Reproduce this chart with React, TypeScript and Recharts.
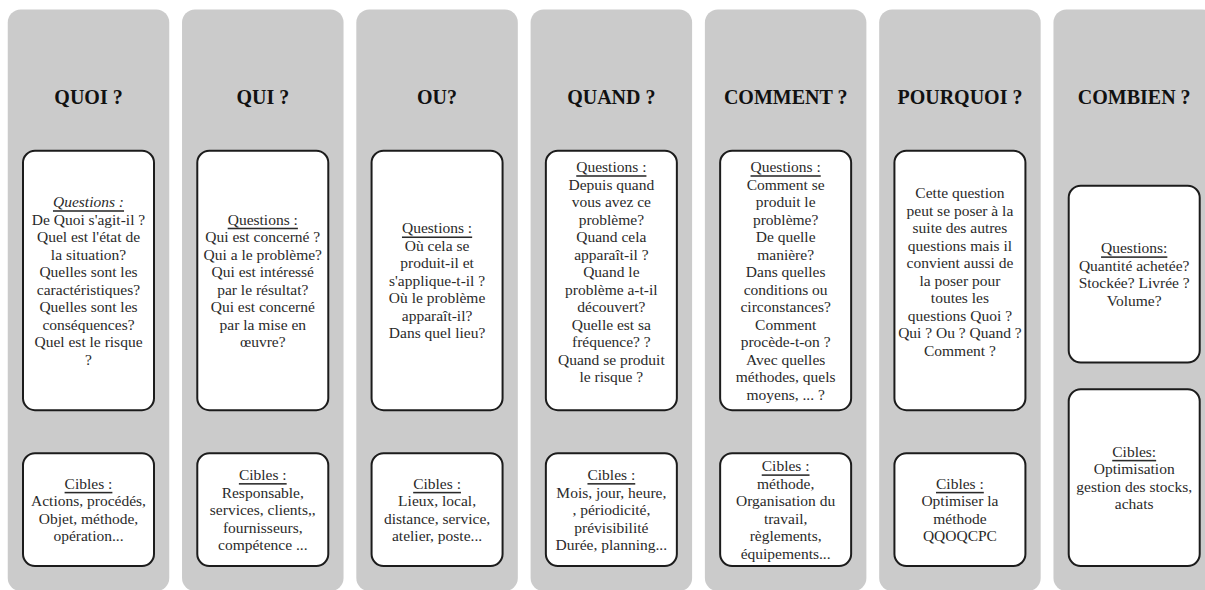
import { BarChart, Bar, XAxis, YAxis } from 'recharts';

// column titles
const titles = ['QUOI ?', 'QUI ?', 'OU?', 'QUAND ?', 'COMMENT ?', 'POURQUOI ?', 'COMBIEN ?'];

const questionHeaders = ['Questions :', 'Questions :', 'Questions :', 'Questions :', 'Questions :', '', 'Questions:'];

const questionLines: string[][] = [
  ["De Quoi s'agit-il ?", "Quel est l'état de", 'la situation?', 'Quelles sont les', 'caractéristiques?', 'Quelles sont les', 'conséquences?', 'Quel est le risque', '?'],
  ['Qui est concerné ?', 'Qui a le problème?', 'Qui est intéressé', 'par le résultat?', 'Qui est concerné', 'par la mise en', 'œuvre?'],
  ['Où cela se', 'produit-il et', "s'applique-t-il ?", 'Où le problème', 'apparaît-il?', 'Dans quel lieu?'],
  ['Depuis quand', 'vous avez ce', 'problème?', 'Quand cela', 'apparaît-il ?', 'Quand le', 'problème a-t-il', 'découvert?', 'Quelle est sa', 'fréquence? ?', 'Quand se produit', 'le risque ?', ''],
  ['Comment se', 'produit le', 'problème?', 'De quelle', 'manière?', 'Dans quelles', 'conditions ou', 'circonstances?', 'Comment', 'procède-t-on ?', 'Avec quelles', 'méthodes, quels', 'moyens, ... ?'],
  ['Cette question', 'peut se poser à la', 'suite des autres', 'questions mais il', 'convient aussi de', 'la poser pour', 'toutes les', 'questions Quoi ?', 'Qui ? Ou ? Quand ?', 'Comment ?', ''],
  ['Quantité achetée?', 'Stockée? Livrée ?', 'Volume?'],
];

const targetHeaders = ['Cibles :', 'Cibles :', 'Cibles :', 'Cibles :', 'Cibles :', 'Cibles :', 'Cibles:'];

const targetLines: string[][] = [
  ['Actions, procédés,', 'Objet, méthode,', 'opération...'],
  ['Responsable,', 'services, clients,,', 'fournisseurs,', 'compétence ...'],
  ['Lieux, local,', 'distance, service,', 'atelier, poste...'],
  ['Mois, jour, heure,', ', périodicité,', 'prévisibilité', 'Durée, planning...'],
  ['méthode,', 'Organisation du', 'travail,', 'règlements,', 'équipements...'],
  ['Optimiser la', 'méthode', 'QQOQCPC'],
  ['Optimisation', 'gestion des stocks,', 'achats'],
];

// box extents, in % of the column height, stacked from the bottom
const bottomPad = [4.3, 4.3, 4.3, 4.3, 4.3, 4.3, 4.3];
const targetBoxSize = [19.4, 19.4, 19.4, 19.4, 19.4, 19.4, 30.4];
const betweenGap = [7.4, 7.4, 7.4, 7.4, 7.4, 7.4, 4.6];
const questionBoxSize = [44.6, 44.6, 44.6, 44.6, 44.6, 44.6, 30.4];

const data = titles.map((title, i) => ({
  title,
  col: i,
  pad: bottomPad[i],
  targets: targetBoxSize[i],
  gap: betweenGap[i],
  questions: questionBoxSize[i],
}));

const FONT = '"Liberation Serif", "Times New Roman", serif';
const LINE_H = 17.5;

function TextBlock({ cx, cy, header, lines, italicHeader }: { cx: number; cy: number; header: string; lines: string[]; italicHeader?: boolean }) {
  const all = header ? [header, ...lines] : lines;
  const start = cy - ((all.length - 1) * LINE_H) / 2;
  return (
    <g>
      {all.map((t, i) => (
        <text
          key={i}
          x={cx}
          y={start + i * LINE_H}
          textAnchor="middle"
          dominantBaseline="central"
          fontFamily={FONT}
          fontSize={15.5}
          fill="#2a2a2a"
          fontStyle={header && i === 0 && italicHeader ? 'italic' : 'normal'}
          style={{ textDecoration: header && i === 0 ? 'underline' : 'none' }}
        >
          {t}
        </text>
      ))}
    </g>
  );
}

const makeBox = (kind: 'questions' | 'targets') => (props: any) => {
  const { x, y, width, height, payload } = props;
  const i = payload.col;
  const header = kind === 'questions' ? questionHeaders[i] : targetHeaders[i];
  const lines = kind === 'questions' ? questionLines[i] : targetLines[i];
  return (
    <g>
      <rect x={x} y={y} width={width} height={height} rx={12} ry={12} fill="#ffffff" stroke="#1c1c1c" strokeWidth={2} />
      <TextBlock cx={x + width / 2} cy={y + height / 2} header={header} lines={lines} italicHeader={kind === 'questions' && i === 0} />
    </g>
  );
};

// grey column behind each category, with its title
function ColumnBackground(props: any) {
  const { x, y, width, height, index, payload } = props;
  const title = payload?.title ?? titles[index];
  return (
    <g>
      <rect x={x - 15.25} y={y} width={width + 30.5} height={height} rx={13} ry={13} fill="#cbcbcb" />
      <text x={x + width / 2} y={y + 94.5} textAnchor="middle" fontFamily={FONT} fontWeight="bold" fontSize={20} fill="#111">
        {title}
      </text>
    </g>
  );
}

export default function App() {
  return (
    <div style={{ position: 'absolute', left: 0, top: 0, width: 1205, height: 590, overflow: 'hidden', background: '#fff' }}>
      <BarChart width={1222} height={601} data={data} margin={{ top: 9.5, right: 1, bottom: 10, left: 1 }} barSize={131}>
        <XAxis dataKey="title" hide />
        <YAxis hide type="number" domain={[0, 100]} />
        <Bar dataKey="pad" stackId="col" fill="none" background={<ColumnBackground />} isAnimationActive={false} />
        <Bar dataKey="targets" stackId="col" shape={makeBox('targets')} isAnimationActive={false} />
        <Bar dataKey="gap" stackId="col" fill="none" isAnimationActive={false} />
        <Bar dataKey="questions" stackId="col" shape={makeBox('questions')} isAnimationActive={false} />
      </BarChart>
    </div>
  );
}
